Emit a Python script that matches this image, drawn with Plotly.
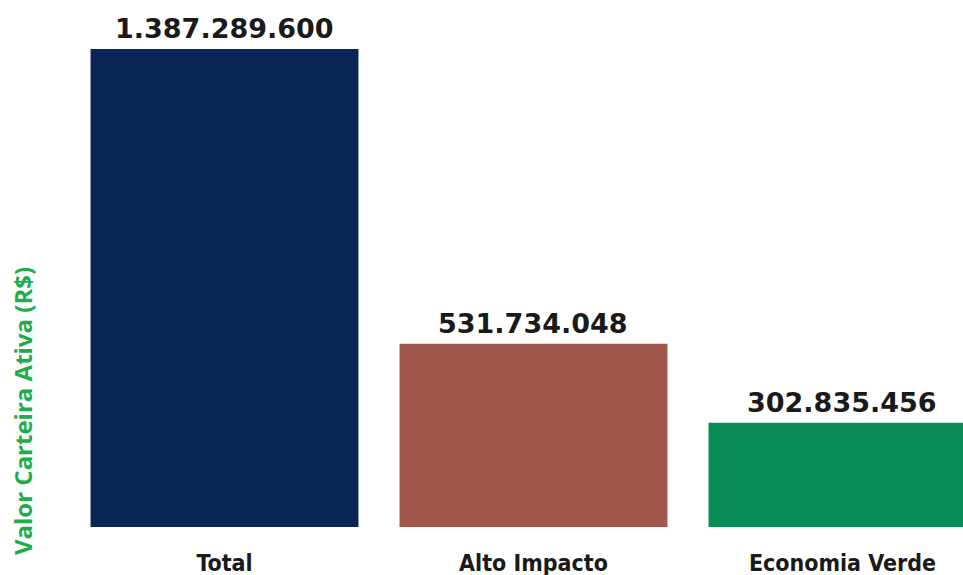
import plotly.graph_objects as go

categories = ["Total", "Alto Impacto", "Economia Verde"]
values = [1387289600, 531734048, 302835456]
labels = ["1.387.289.600", "531.734.048", "302.835.456"]
colors = ["#0a2456", "#a0564b", "#0a8c57"]

fig = go.Figure()
fig.add_trace(go.Bar(
    x=categories, y=values, marker=dict(color=colors, line=dict(width=0)),
    width=0.867, hoverinfo="skip",
))

for c, v, t in zip(categories, values, labels):
    fig.add_annotation(x=c, y=v, text="<b>" + t + "</b>", showarrow=False, yanchor="bottom", yshift=3,
                       font=dict(family="DejaVu Sans", size=27, color="#1a1a1a"))

fig.add_annotation(xref="paper", yref="paper", x=-0.053, y=0.228, text="<b>Valor Carteira Ativa (R$)</b>",
                   textangle=-90, showarrow=False, xanchor="center", yanchor="middle",
                   font=dict(family="Open Sans", size=24, color="#1fad4c"))

fig.update_layout(
    width=963, height=575,
    margin=dict(l=70, r=0, t=20, b=48),
    paper_bgcolor="white", plot_bgcolor="white",
    showlegend=False,
    xaxis=dict(range=[-0.5, 2.39], showgrid=False, zeroline=False, showline=False,
               ticks="outside", ticklen=15, tickcolor="rgba(0,0,0,0)",
               tickfont=dict(family="DejaVu Sans Condensed", size=23, color="#1a1a1a"),
               tickprefix="<b>", ticksuffix="</b>"),
    yaxis=dict(range=[0, 1471400000], showgrid=False, zeroline=False, showline=False,
               showticklabels=False, ticks=""),
)

fig.write_html("out.html")
